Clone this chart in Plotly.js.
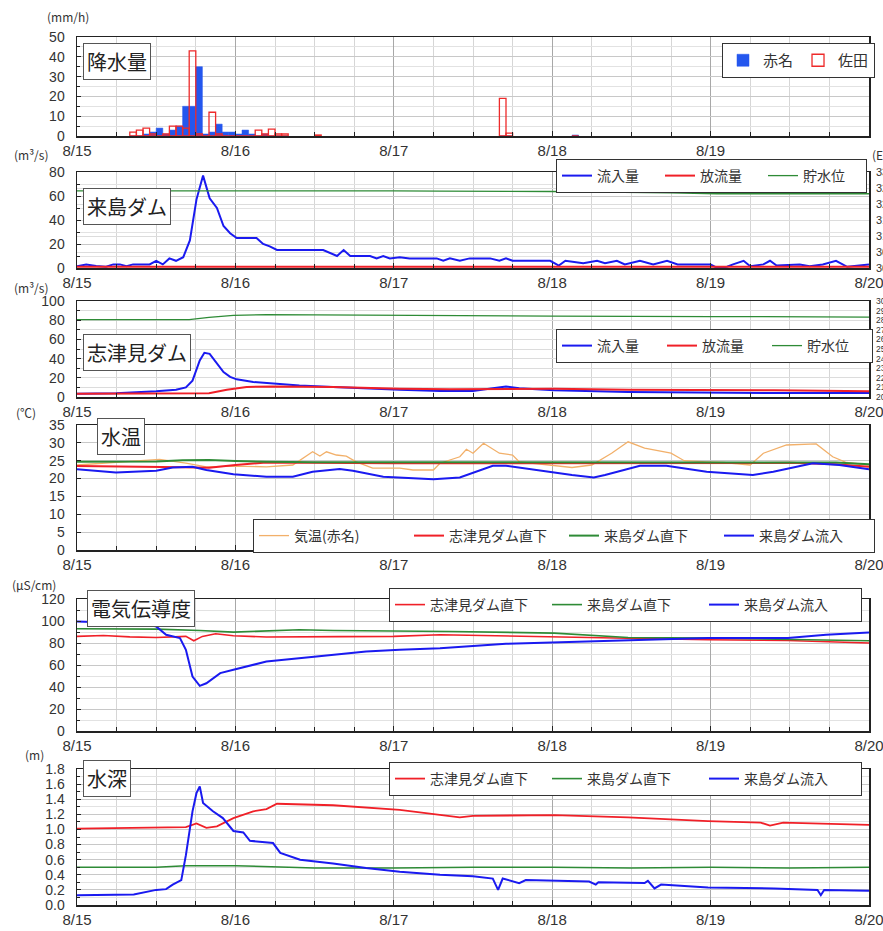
<!DOCTYPE html>
<html>
<head>
<meta charset="utf-8">
<script src="https://cdn.plot.ly/plotly-3.0.1.min.js"></script>
<style>
html,body{margin:0;padding:0;background:#fff;overflow:hidden;}
#chart{width:883px;height:931px;}
</style>
</head>
<body>
<div id="chart"></div>
<script>
// ---------- DATA (hours from 8/15 00:00) ----------
const dayTicks = [0, 24, 48, 72, 96, 120];
const dayLabels = ['8/15', '8/16', '8/17', '8/18', '8/19', '8/20'];

// 降水量 (mm/h), hourly bars (center of hour)
const rainHour  = [8.5, 9.5, 10.5, 11.5, 12.5, 13.5, 14.5, 15.5, 16.5, 17.5, 18.5, 19.5, 20.5, 21.5, 22.5, 23.5, 24.5, 25.5, 26.5, 27.5, 28.5, 29.5, 30.5, 31.5, 36.5, 64.5, 65.5, 75.5];
const akanaRain = [0, 0, 1, 2, 4, 1, 3, 5, 15, 15, 35, 1, 2, 6, 2, 2, 1, 3, 1, 0, 1, 0, 0, 0, 0, 0, 0, 0.5];
const sadaRain  = [2, 3, 4, 1, 0, 1, 5, 5, 4, 43, 1, 0, 12, 1, 0, 0, 0, 0, 0, 3, 1, 3.5, 1, 1, 0.5, 19, 1.5, 0];

// 来島ダム
const kijimaInHour = [0, 1.4, 2.9, 4.4, 5.5, 6.5, 7.5, 8.5, 11, 12, 13, 14, 15, 16.1, 17.1, 18.1, 19.1, 20.1, 21.2, 22.2, 23.2, 24.2, 27.2, 28.2, 29.2, 30.3, 37.3, 39.4, 40.4, 41.4, 44.4, 45.4, 46.4, 47.4, 48.9, 50.4, 54.5, 55.5, 56.5, 58, 59.5, 62.6, 64, 65, 66, 71.7, 73, 74, 76.7, 78.8, 80, 81.8, 83, 85.3, 87.3, 89.4, 91, 96, 97, 98.5, 99.4, 101, 102, 104, 105, 106, 109.5, 111, 113, 115, 116.7, 118, 120];
const kijimaInflow = [1.4, 3, 1.7, 1, 3, 3, 1.4, 3, 3, 6, 3, 8, 6, 9, 23, 57, 77, 58, 50, 35, 29, 25, 25, 20, 18, 15, 15, 10, 15, 10, 10, 8, 10, 8, 9, 8, 8, 6, 8, 6, 8, 8, 6, 8, 6, 6, 2, 6, 4, 6, 4, 6, 3, 6, 3, 6, 3, 3, 0, 1, 3, 6, 1.4, 3, 6, 2, 3, 1.4, 3, 6, 1, 2, 3];
const kijimaOutHour = [0, 24, 48, 72, 96, 120];
const kijimaOutflow = [1, 1, 1, 1, 1, 1];
const kijimaLevelHour = [0, 24, 48, 55, 72, 90, 97, 120];
const kijimaLevel = [324.1, 324.2, 324.1, 324.0, 323.9, 323.5, 323.2, 323.2];

// 志津見ダム
const shizumiInHour = [0, 5.9, 12, 15, 16.5, 17.5, 18.6, 19.3, 20.1, 21.2, 22.2, 23.2, 24.2, 26.7, 29.7, 33.7, 38.8, 43.8, 48.9, 55, 60, 63, 65, 67, 72.3, 83.5, 94.6, 105.6, 120];
const shizumiInflow = [3.5, 4, 6, 7.6, 10, 17, 38, 46, 45, 35, 26, 21, 18.4, 15.6, 14, 12, 10.4, 8.7, 7.6, 6.3, 6.3, 9, 11, 9, 7, 5.2, 4.5, 4.2, 4.2];
const shizumiOutHour = [0, 12, 20, 22.7, 25.7, 29.7, 38.8, 48.9, 56.5, 72.3, 83.5, 105.6, 120];
const shizumiOutflow = [3.5, 4, 4, 7.6, 10.4, 11, 10.4, 8.7, 8, 8.7, 7.6, 7, 5.9];
const shizumiLevelHour = [0, 12, 17, 20, 23.7, 28.7, 48, 72, 96, 120];
const shizumiLevel = [280.5, 280.5, 280.7, 283, 285, 285.8, 285, 284.2, 283.8, 283.3];

// 水温 (℃)
const airTempHour = [0, 12.5, 16.5, 19.6, 23.7, 28.7, 32.7, 34.2, 35.7, 36.8, 37.8, 39.3, 40.8, 42.3, 44.8, 48.9, 50.9, 54, 55, 58, 59, 60, 61.6, 64, 66, 67, 75, 78, 81, 83.5, 86, 90, 92, 95.4, 98, 102, 104, 107.5, 112, 114.5, 116.6, 120];
const airTemp = [23.8, 25.4, 24.3, 23.3, 23.5, 23.3, 23.8, 25.7, 27.5, 26.3, 27.5, 26.6, 26.3, 24.7, 22.9, 22.9, 22.4, 22.4, 24.3, 26.1, 28.2, 27.1, 29.9, 27.1, 26.6, 24.7, 23.1, 23.8, 27.1, 30.3, 28.5, 27.1, 25, 24.7, 24.5, 23.8, 27.1, 29.4, 29.7, 26.1, 24.5, 23.8];
const tempHour = [0, 6, 12, 16, 20, 24, 28.7, 36, 48, 60, 72, 84, 96, 108, 115, 120];
const shizumiBelowTemp = [23.5, 23.4, 23.4, 23.2, 23.0, 23.8, 24.5, 24.4, 24.3, 24.3, 24.3, 24.4, 24.3, 24.4, 24.0, 23.3];
const kijimaBelowTemp = [24.7, 24.7, 24.8, 25.1, 25.2, 24.9, 24.7, 24.6, 24.6, 24.6, 24.5, 24.6, 24.5, 24.6, 24.5, 24.0];
const kijimaInTempHour = [0, 5.9, 12, 14.5, 17.5, 19.6, 23.7, 28.7, 32.7, 35.7, 39.8, 41.8, 46.4, 54, 58, 60, 63, 65, 70, 75, 78.3, 80, 85.3, 89.3, 95.4, 102.4, 105.5, 111.5, 115.5, 120];
const kijimaInTemp = [22.6, 21.7, 22.2, 23.1, 23.3, 22.4, 21.2, 20.5, 20.5, 21.9, 22.7, 22.2, 20.5, 19.8, 20.3, 21.7, 23.6, 23.6, 22.2, 21, 20.3, 21, 23.6, 23.6, 21.9, 21, 21.9, 24.3, 23.8, 22.6];

// 電気伝導度 (μS/cm)
const ecShizumiHour = [0, 4, 8, 12, 16.5, 17.7, 19, 21, 23.7, 28.7, 40, 48, 55, 63, 72.3, 80, 95.6, 107.7, 114, 120];
const ecShizumiBelow = [86, 86.8, 85.6, 85, 86, 82, 86, 88.4, 86.6, 85.4, 85.8, 86, 87.5, 86.5, 86, 84.5, 83, 82.3, 81.2, 80];
const ecKijimaBelowHour = [0, 12, 18.6, 23.7, 33.7, 38.8, 56.5, 72.3, 83.5, 95.6, 120];
const ecKijimaBelow = [93, 92.6, 91.4, 89.9, 92, 91.4, 90.5, 89, 85, 84.5, 82];
const ecKijimaInHour = [0, 5.9, 10.5, 12, 13.5, 15.6, 16.5, 17.5, 18.6, 19.6, 21.7, 23.7, 28.7, 36.3, 43.8, 48.9, 55, 65, 72.3, 83.5, 95.6, 107.7, 113.5, 120];
const ecKijimaIn = [99.6, 98.1, 97.5, 95, 87.5, 84.5, 73.8, 49.5, 41, 43.4, 52.6, 55.6, 63.2, 67.7, 72.3, 73.8, 75.3, 79.3, 80.5, 82.3, 84.5, 84.5, 87.5, 89.6];

// 水深 (m)
const depthShizumiHour = [0, 8, 16.5, 18.1, 19.6, 21.2, 23.7, 26.7, 28.7, 30.3, 38.8, 48.9, 55, 58, 60, 67, 72.3, 83.5, 95.6, 103.6, 105, 107, 120];
const depthShizumiBelow = [1.01, 1.02, 1.03, 1.08, 1.02, 1.04, 1.15, 1.24, 1.27, 1.34, 1.32, 1.26, 1.19, 1.16, 1.18, 1.19, 1.19, 1.16, 1.11, 1.09, 1.05, 1.09, 1.06];
const depthKijimaBelowHour = [0, 12, 16.5, 24, 36, 48, 60, 72, 84, 96, 108, 120];
const depthKijimaBelow = [0.5, 0.5, 0.52, 0.52, 0.49, 0.49, 0.5, 0.5, 0.49, 0.5, 0.49, 0.5];
const depthKijimaInHour = [0, 8.6, 12, 13.5, 14.5, 15.8, 16.5, 17.5, 18.1, 18.6, 19.1, 20.6, 22.1, 23.7, 25.2, 26.2, 29.7, 30.8, 33.8, 38.8, 43.8, 48.9, 55, 60, 63, 63.8, 64.5, 67, 68, 77.6, 78.6, 79, 86, 86.5, 87.5, 88.5, 95.6, 105.6, 112.2, 112.7, 113.2, 120];
const depthKijimaIn = [0.13, 0.14, 0.2, 0.21, 0.27, 0.33, 0.66, 1.24, 1.48, 1.57, 1.35, 1.24, 1.15, 0.98, 0.96, 0.85, 0.82, 0.69, 0.6, 0.55, 0.49, 0.44, 0.4, 0.38, 0.35, 0.2, 0.35, 0.29, 0.33, 0.31, 0.27, 0.3, 0.29, 0.32, 0.22, 0.27, 0.23, 0.22, 0.2, 0.13, 0.2, 0.19];

// ---------- LAYOUT HELPERS ----------
const W = 883, H = 931, L = 77, R = 869;
const px2x = p => (p - L) / (R - L);
const px2y = p => 1 - p / H;
const dom = (top, bottom) => [px2y(bottom), px2y(top)];

const BLUE = '#1a1af0', RED = '#f02028', GREEN = '#2e8b36', ORANGE = '#f2b06a';
const tickFontY = {family: 'Liberation Sans Narrow, Liberation Sans, sans-serif', size: 14, color: '#333'};
const tickFontX = {family: 'Liberation Sans Narrow, Liberation Sans, sans-serif', size: 15, color: '#333'};
const jpFont = 'Noto Sans CJK JP, sans-serif';

function xAxis(yref, labels) {
  return {
    anchor: yref, domain: [0, 1], range: [0, 120], tickmode: 'array', tickvals: dayTicks, ticktext: labels,
    showgrid: true, gridcolor: '#a8a8a8', gridwidth: 1, ticklabeloverflow: 'allow',
    ticks: 'inside', ticklen: 5, tickcolor: '#222', tickfont: tickFontX,
    showline: true, mirror: true, linecolor: '#222', linewidth: 1.5, zeroline: false,
    minor: {tick0: 0, dtick: 6, showgrid: true, gridcolor: '#d6d6d6', gridwidth: 1, ticks: 'inside', ticklen: 4, tickcolor: '#222'}
  };
}
function yAxis(xref, d, range, dtick, minor, fmt) {
  return {
    anchor: xref, domain: d, range: range, tickmode: 'linear', tick0: 0, dtick: dtick, tickformat: fmt || '',
    showgrid: true, gridcolor: '#c8c8c8', ticks: 'inside', ticklen: 4, tickcolor: '#222',
    tickfont: tickFontY, ticklabelstandoff: 8,
    showline: true, mirror: true, linecolor: '#222', linewidth: 1.5, zeroline: false,
    minor: {dtick: minor, showgrid: true, gridcolor: '#e2e2e2', ticks: 'inside', ticklen: 3, tickcolor: '#222'}
  };
}
function legendAt(left, top, ew, fs) {
  const lg = {
    x: px2x(left), y: px2y(top), xref: 'paper', yref: 'paper', xanchor: 'left', yanchor: 'top',
    orientation: 'h', bgcolor: '#fff', bordercolor: '#333', borderwidth: 1,
    font: {family: jpFont, size: fs || 14, color: '#333'}, itemwidth: 30
  };
  if (ew) lg.entrywidth = ew;
  return lg;
}
// title boxes: annotation + drop shadow rectangle behind it
const titleFs = 20;
function titleBox(text, left, top) {
  return {xref: 'paper', yref: 'paper', x: px2x(left), y: px2y(top), xanchor: 'left', yanchor: 'top',
    text: text, showarrow: false, borderpad: 3, borderwidth: 1,
    font: {family: jpFont, size: titleFs, color: '#222'}, bgcolor: '#fff', bordercolor: '#555'};
}
function titleShadow(text, left, top) {
  const w = text.length * titleFs + 2, h = 32;
  return {type: 'rect', xref: 'paper', yref: 'paper', layer: 'above',
    x0: px2x(left + 3), x1: px2x(left + 3 + w), y0: px2y(top + 3), y1: px2y(top + 3 + h),
    fillcolor: '#b8b8b8', line: {width: 0}};
}
function unitLabel(text, left, cy) {
  return {xref: 'paper', yref: 'paper', x: px2x(left), y: px2y(cy), xanchor: 'left', yanchor: 'middle',
    text: text, showarrow: false, font: {family: jpFont, size: 12, color: '#333'}};
}

const lastLabels = dayLabels;
const firstLabels = dayLabels.slice(0, 5).concat(['']);

const line = (x, y, name, color, width, xa, ya, lg) => ({
  type: 'scatter', mode: 'lines', x: x, y: y, name: name, xaxis: xa, yaxis: ya, legend: lg,
  line: {color: color, width: width}, hoverinfo: 'skip'
});

const traces = [
  {type: 'bar', x: rainHour, y: akanaRain, width: 1, name: '赤名', xaxis: 'x', yaxis: 'y', legend: 'legend',
   marker: {color: '#2457ee', line: {color: '#2457ee', width: 0.5}}},
  {type: 'bar', x: rainHour, y: sadaRain, width: 1, name: '佐田', xaxis: 'x', yaxis: 'y', legend: 'legend',
   marker: {color: 'rgba(255,255,255,0)', line: {color: '#ee2a2a', width: 1.3}}},

  line(kijimaInHour, kijimaInflow, '流入量', BLUE, 2, 'x2', 'y2', 'legend2'),
  line(kijimaOutHour, kijimaOutflow, '放流量', RED, 2, 'x2', 'y2', 'legend2'),
  line(kijimaLevelHour, kijimaLevel, '貯水位', GREEN, 1.3, 'x2', 'y7', 'legend2'),

  line(shizumiInHour, shizumiInflow, '流入量', BLUE, 2, 'x3', 'y3', 'legend3'),
  line(shizumiOutHour, shizumiOutflow, '放流量', RED, 2, 'x3', 'y3', 'legend3'),
  line(shizumiLevelHour, shizumiLevel, '貯水位', GREEN, 1.3, 'x3', 'y8', 'legend3'),

  line(airTempHour, airTemp, '気温(赤名)', ORANGE, 1.3, 'x4', 'y4', 'legend4'),
  line(tempHour, shizumiBelowTemp, '志津見ダム直下', RED, 2, 'x4', 'y4', 'legend4'),
  line(tempHour, kijimaBelowTemp, '来島ダム直下', GREEN, 2, 'x4', 'y4', 'legend4'),
  line(kijimaInTempHour, kijimaInTemp, '来島ダム流入', BLUE, 2, 'x4', 'y4', 'legend4'),

  line(ecShizumiHour, ecShizumiBelow, '志津見ダム直下', RED, 1.6, 'x5', 'y5', 'legend5'),
  line(ecKijimaBelowHour, ecKijimaBelow, '来島ダム直下', GREEN, 1.6, 'x5', 'y5', 'legend5'),
  line(ecKijimaInHour, ecKijimaIn, '来島ダム流入', BLUE, 2, 'x5', 'y5', 'legend5'),

  line(depthShizumiHour, depthShizumiBelow, '志津見ダム直下', RED, 1.8, 'x6', 'y6', 'legend6'),
  line(depthKijimaBelowHour, depthKijimaBelow, '来島ダム直下', GREEN, 1.6, 'x6', 'y6', 'legend6'),
  line(depthKijimaInHour, depthKijimaIn, '来島ダム流入', BLUE, 2, 'x6', 'y6', 'legend6')
];

const d1 = dom(37, 136), d2 = dom(172, 268), d3 = dom(301, 397), d4 = dom(425, 550), d5 = dom(599, 731), d6 = dom(769, 905);

const rightAxis = (ov, d, range, dtick, fs) => ({
  overlaying: ov, anchor: ov === 'y2' ? 'x2' : 'x3', side: 'right', domain: d, range: range, dtick: dtick, tick0: 0,
  showgrid: true, gridcolor: '#dcdcdc', zeroline: false, ticks: '', ticklabelstandoff: 6,
  tickfont: {family: 'Liberation Sans Narrow, sans-serif', size: fs, color: '#333'}
});

const titles = [['降水量', 83, 43], ['来島ダム', 83, 188], ['志津見ダム', 83, 334], ['水温', 97, 418], ['電気伝導度', 87, 590], ['水深', 83, 760]];

const layout = {
  width: W, height: H, paper_bgcolor: '#fff', plot_bgcolor: '#fff',
  margin: {l: L, r: W - R, t: 0, b: 0, autoexpand: false}, barmode: 'overlay', bargap: 0,
  showlegend: true, hovermode: false,
  xaxis: xAxis('y', firstLabels), yaxis: yAxis('x', d1, [0, 50], 10, 5),
  xaxis2: xAxis('y2', lastLabels), yaxis2: yAxis('x2', d2, [0, 80], 20, 10),
  xaxis3: xAxis('y3', lastLabels), yaxis3: yAxis('x3', d3, [0, 100], 20, 10),
  xaxis4: xAxis('y4', lastLabels), yaxis4: yAxis('x4', d4, [0, 35], 5, 5),
  xaxis5: xAxis('y5', lastLabels), yaxis5: yAxis('x5', d5, [0, 120], 20, 10),
  xaxis6: xAxis('y6', lastLabels), yaxis6: yAxis('x6', d6, [0, 1.8], 0.2, 0.1, '.1f'),
  yaxis7: rightAxis('y2', d2, [300, 330], 5, 11),
  yaxis8: rightAxis('y3', d3, [200, 300], 10, 8.5),
  legend: legendAt(722, 43, 0, 15),
  legend2: legendAt(556, 159, 58),
  legend3: legendAt(556, 329, 60),
  legend4: legendAt(253, 519, 110),
  legend5: legendAt(389, 588, 112),
  legend6: legendAt(389, 762, 112),
  shapes: titles.map(t => titleShadow(t[0], t[1], t[2])),
  annotations: titles.map(t => titleBox(t[0], t[1], t[2])).concat(
    [unitLabel('(mm/h)', 45, 16), unitLabel('(m³/s)', 12, 155), unitLabel('(m³/s)', 12, 287),
     unitLabel('(℃)', 14, 412), unitLabel('(μS/cm)', 10, 584), unitLabel('(m)', 23, 754),
     unitLabel('(EL.m)', 870, 154)]
  )
};

Plotly.newPlot('chart', traces, layout, {staticPlot: true, displayModeBar: false});
</script>
</body>
</html>
